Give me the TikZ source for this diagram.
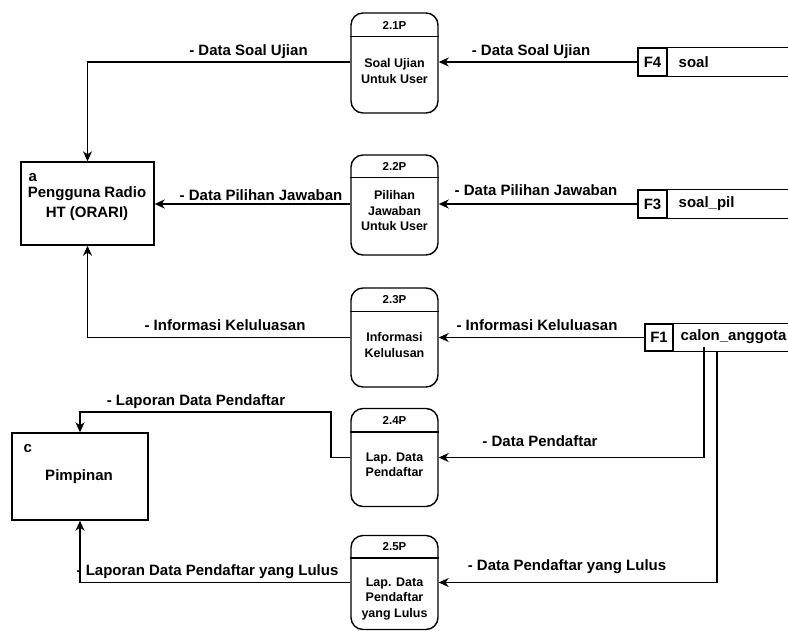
\documentclass[tikz,border=0pt]{standalone}
\usepackage{fontspec}
\setmainfont{Liberation Sans}
\usetikzlibrary{arrows.meta}
\begin{document}
\begin{tikzpicture}[x=1pt,y=-1pt,line width=1.4pt,
  proc/.style={draw, rounded corners=12pt, minimum width=87pt, inner sep=0pt},
  ptxt/.style={font=\fontsize{12.5}{15.5}\selectfont\bfseries, align=center, inner sep=0pt},
  pid/.style={font=\fontsize{11.5}{13}\selectfont\bfseries, inner sep=0pt},
  ent/.style={draw, inner sep=0pt},
  lbl/.style={font=\fontsize{15}{17}\selectfont\bfseries, inner sep=0pt},
  etxt/.style={font=\fontsize{15}{20}\selectfont\bfseries, align=center, inner sep=0pt},
  sid/.style={draw, minimum height=28pt, inner sep=0pt, font=\fontsize{15}{17}\selectfont\bfseries},
  flow/.style={-{Stealth[length=10pt,width=9pt,inset=3pt]}},
]
\useasboundingbox (0,0) rectangle (788,630);
\coordinate (edge) at (788,0);

% entities
\node[ent, minimum width=133pt, minimum height=83pt] (a) at (87.5,203.5) {};
\node[lbl, anchor=west] (alab) at (28,178) {a};
\node[etxt] (atxt) at (87,204) {Pengguna Radio\\HT (ORARI)};

\node[ent, minimum width=136pt, minimum height=87pt] (c) at (80,476.5) {};
\node[lbl, anchor=west] (clab) at (23,449) {c};
\node[lbl] (ctxt) at (79,477) {Pimpinan};

% processes
\node[proc, minimum height=100pt] (p1) at (394.5,63) {};
\draw ([yshift=-24pt]p1.north west) -- ([yshift=-24pt]p1.north east);
\node[pid] (p1id) at (394.5,25) {2.1P};
\node[ptxt] (p1t) at (394.5,71) {Soal Ujian\\Untuk User};

\node[proc, minimum height=100pt] (p2) at (394.5,205) {};
\draw ([yshift=-23pt]p2.north west) -- ([yshift=-23pt]p2.north east);
\node[pid] (p2id) at (394.5,166.5) {2.2P};
\node[ptxt] (p2t) at (394.5,211) {Pilihan\\Jawaban\\Untuk User};

\node[proc, minimum height=99pt] (p3) at (394.5,337.5) {};
\draw ([yshift=-24pt]p3.north west) -- ([yshift=-24pt]p3.north east);
\node[pid] (p3id) at (394.5,300) {2.3P};
\node[ptxt] (p3t) at (394.5,345) {Informasi\\Kelulusan};

\node[proc, minimum height=98pt] (p4) at (394.5,457.5) {};
\draw ([yshift=-24pt]p4.north west) -- ([yshift=-24pt]p4.north east);
\node[pid] (p4id) at (394.5,420.5) {2.4P};
\node[ptxt] (p4t) at (394.5,465) {Lap. Data\\Pendaftar};

\node[proc, minimum height=94pt] (p5) at (394.5,582.5) {};
\draw ([yshift=-23pt]p5.north west) -- ([yshift=-23pt]p5.north east);
\node[pid] (p5id) at (394.5,547) {2.5P};
\node[ptxt] (p5t) at (394.5,599) {Lap. Data\\Pendaftar\\yang Lulus};

% data stores
\node[sid, minimum width=29pt] (f4) at (652.5,62) {F4};
\node[lbl, anchor=west] (f4n) at (678,62) {soal};
\draw (f4.north east) -- (f4.north east -| edge);
\draw (f4.south east) -- (f4.south east -| edge);

\node[sid, minimum width=29pt] (f3) at (652.5,204) {F3};
\node[lbl, anchor=west] (f3n) at (678,204) {soal\_pil};
\draw (f3.north east) -- (f3.north east -| edge);
\draw (f3.south east) -- (f3.south east -| edge);

\node[sid, minimum width=28pt, minimum height=27pt] (f1) at (659,337.5) {F1};
\node[lbl, anchor=west] (f1n) at (680,337) {calon\_anggota};
\draw (f1.north east) -- (f1.north east -| edge);
\draw (f1.south east) -- (f1.south east -| edge);
\coordinate (f1a) at (704,347);
\coordinate (f1b) at (717,351);

% flows
\draw[flow] (f4.west) -- (f4.west -| p1.east);
\draw[flow] (f4.west -| p1.west) -| (a.north);
\draw[flow] (f3.west) -- (f3.west -| p2.east);
\draw[flow] (f3.west -| p2.west) -- (f3.west -| a.east);
\draw[flow] (f1.west) -- (f1.west -| p3.east);
\draw[flow] (f1.west -| p3.west) -| (a.south);
\draw[flow] (f1a) |- (p4.east);
\draw[flow] (f1b) |- (p5.east);
\coordinate (k1) at (331,412);
\draw[flow] (p4.west) -| (k1) -| (c.north);
\draw[flow] (p5.west) -| (c.south);

% flow labels
\node[lbl] (l1) at (248.5,52) {- Data Soal Ujian};
\node[lbl] (l2) at (531,52) {- Data Soal Ujian};
\node[lbl] (l3) at (261,195) {- Data Pilihan Jawaban};
\node[lbl] (l4) at (536,190) {- Data Pilihan Jawaban};
\node[lbl] (l5) at (225,325) {- Informasi Keluluasan};
\node[lbl] (l6) at (537,325) {- Informasi Keluluasan};
\node[lbl] (l7) at (196,402) {- Laporan Data Pendaftar};
\node[lbl] (l8) at (540,441) {- Data Pendaftar};
\node[lbl] (l9) at (207.5,572) {- Laporan Data Pendaftar yang Lulus};
\node[lbl] (l10) at (567,567) {- Data Pendaftar yang Lulus};
\end{tikzpicture}
\end{document}
